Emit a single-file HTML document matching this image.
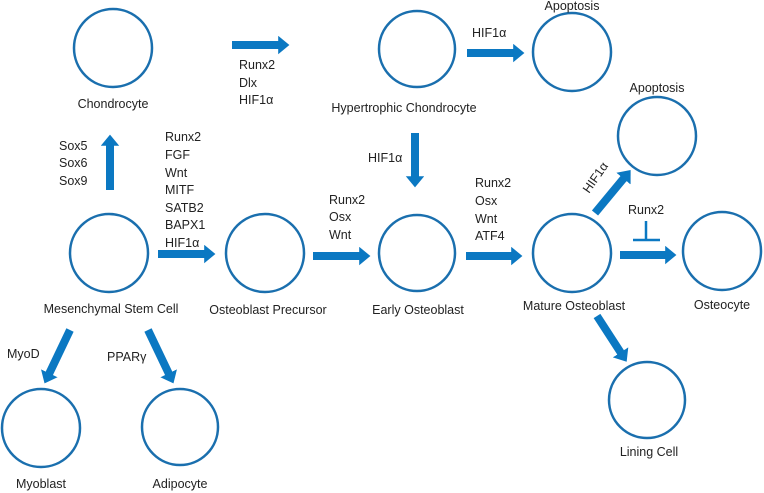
<!DOCTYPE html>
<html><head><meta charset="utf-8"><style>body{margin:0;background:#fff}svg{display:block}text{font-family:"Liberation Sans",sans-serif;font-size:12.5px;fill:#222}</style></head><body>
<svg width="764" height="493" viewBox="0 0 764 493" xmlns="http://www.w3.org/2000/svg">
<defs><marker id="a" markerWidth="2" markerHeight="2.4" refX="0.1" refY="1.15" orient="auto" markerUnits="strokeWidth"><path d="M0,0 L1.4,1.15 L0,2.3 Z" fill="#0b78c2"/></marker></defs>
<g fill="none" stroke="#1a6fae" stroke-width="2.5">
<circle cx="113" cy="48" r="39"/><circle cx="417" cy="49" r="38"/><circle cx="572" cy="52" r="39"/><circle cx="657" cy="136" r="39"/>
<circle cx="109" cy="253" r="39"/><circle cx="265" cy="253" r="39"/><circle cx="417" cy="253" r="38"/><circle cx="572" cy="253" r="39"/><circle cx="722" cy="251" r="39"/>
<circle cx="41" cy="428" r="39"/><circle cx="180" cy="427" r="38"/><circle cx="647" cy="400" r="38"/>
</g>
<g stroke="#0b78c2" stroke-width="8" marker-end="url(#a)">
<line x1="232" y1="45" x2="279" y2="45"/><line x1="467" y1="53" x2="514" y2="53"/><line x1="415" y1="133" x2="415" y2="177"/>
<line x1="110" y1="190" x2="110" y2="145"/><line x1="158" y1="254" x2="205" y2="254"/><line x1="313" y1="256" x2="360" y2="256"/>
<line x1="466" y1="256" x2="512" y2="256"/><line x1="620" y1="255" x2="666" y2="255"/><line x1="595" y1="213" x2="624" y2="178"/>
<line x1="70" y1="330" x2="49" y2="374"/><line x1="148" y1="330" x2="169" y2="374"/><line x1="597" y1="316" x2="621" y2="353"/>
</g>
<g stroke="#0b78c2" stroke-width="2.5"><line x1="646" y1="221" x2="646" y2="240"/><line x1="633" y1="240" x2="660" y2="240"/></g>
<g text-anchor="middle">
<text x="113" y="108">Chondrocyte</text><text x="404" y="112">Hypertrophic Chondrocyte</text><text x="572" y="10">Apoptosis</text><text x="657" y="92">Apoptosis</text>
<text x="111" y="313">Mesenchymal Stem Cell</text><text x="268" y="314">Osteoblast Precursor</text><text x="418" y="314">Early Osteoblast</text><text x="574" y="310">Mature Osteoblast</text><text x="722" y="309">Osteocyte</text>
<text x="41" y="488">Myoblast</text><text x="180" y="488">Adipocyte</text><text x="649" y="456">Lining Cell</text>
</g>
<text x="239" y="69">Runx2</text><text x="239" y="87">Dlx</text><text x="239" y="104">HIF1α</text>
<text x="472" y="37">HIF1α</text><text x="368" y="162">HIF1α</text>
<text x="59" y="150">Sox5</text><text x="59" y="167">Sox6</text><text x="59" y="185">Sox9</text>
<text x="165" y="141">Runx2</text><text x="165" y="159">FGF</text><text x="165" y="177">Wnt</text><text x="165" y="194">MITF</text><text x="165" y="212">SATB2</text><text x="165" y="229">BAPX1</text><text x="165" y="247">HIF1α</text>
<text x="329" y="204">Runx2</text><text x="329" y="221">Osx</text><text x="329" y="239">Wnt</text>
<text x="475" y="187">Runx2</text><text x="475" y="205">Osx</text><text x="475" y="223">Wnt</text><text x="475" y="240">ATF4</text>
<text x="628" y="214">Runx2</text>
<text x="0" y="0" transform="translate(589,194) rotate(-55)">HIF1α</text>
<text x="7" y="358">MyoD</text><text x="107" y="361">PPARγ</text>
</svg>
</body></html>
